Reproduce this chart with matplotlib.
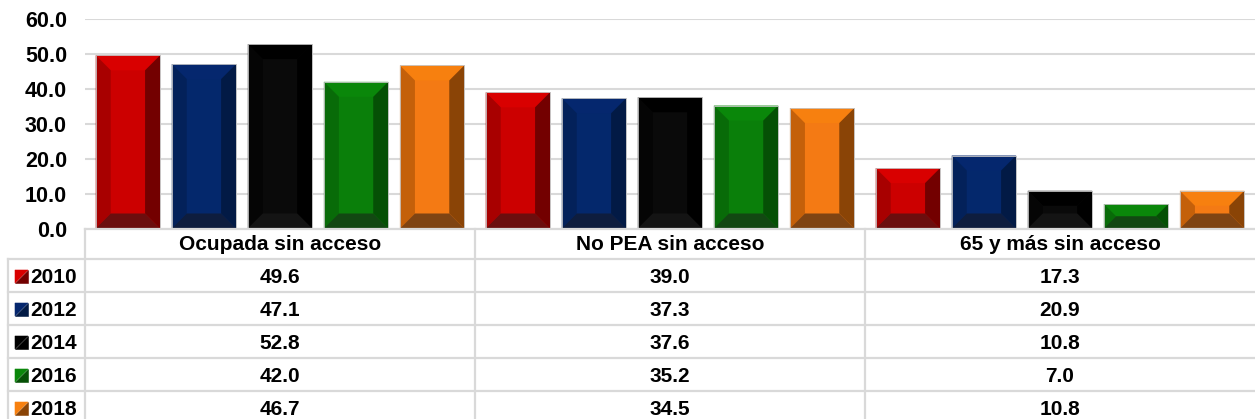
import matplotlib
matplotlib.use('Agg')
import matplotlib.pyplot as plt
from matplotlib.patches import Polygon
import numpy as np

plt.rcParams['font.family'] = ['Liberation Sans', 'DejaVu Sans']
plt.rcParams['font.weight'] = 'bold'

categories = ['Ocupada sin acceso', 'No PEA sin acceso', '65 y más sin acceso']
years = ['2010', '2012', '2014', '2016', '2018']
v2010 = [49.6, 39.0, 17.3]
v2012 = [47.1, 37.3, 20.9]
v2014 = [52.8, 37.6, 10.8]
v2016 = [42.0, 35.2, 7.0]
v2018 = [46.7, 34.5, 10.8]
series = [v2010, v2012, v2014, v2016, v2018]
yticks = [0, 10, 20, 30, 40, 50, 60]

# bevel shades: top, face, left, right, bottom
shades = [
    ('#D90000', '#CC0000', '#A80000', '#730000', '#6B0E0E'),
    ('#05276E', '#04286C', '#03215A', '#021A45', '#0E1D3E'),
    ('#000000', '#0A0A0A', '#050505', '#000000', '#141414'),
    ('#0A870A', '#0A7F0A', '#086B08', '#055005', '#124812'),
    ('#F7800F', '#F47A14', '#C4600A', '#8A4406', '#7F4413'),
]

W, H = 1255, 419
fig = plt.figure(figsize=(W / 100, H / 100), dpi=100)
fig.patch.set_facecolor('white')

# main axes in pixel layout
ax_l, ax_r, ax_top, ax_bot = 85, 1255, 19, 228.5
ax = fig.add_axes([ax_l / W, 1 - ax_bot / H, (ax_r - ax_l) / W, (ax_bot - ax_top) / H])
ax.set_xlim(-0.5, len(categories) - 0.5)
ax.set_ylim(0, 60)
ax.set_yticks(yticks)
ax.set_yticklabels([f'{t:.1f}' for t in yticks], fontsize=15.5, fontweight='bold')
ax.set_xticks([])
ax.tick_params(axis='y', length=0, pad=13)
for s in ax.spines.values():
    s.set_visible(False)
ax.grid(axis='y', color='#D9D9D9', linewidth=1.5)
ax.set_axisbelow(True)
ax.patch.set_alpha(0)

step = 0.195
width = 0.165
x = np.arange(len(categories))
to_px = ax.transData
to_data = ax.transData.inverted()
for i, vals in enumerate(series):
    top, face, left, right, bottom = shades[i]
    bars = ax.bar(x + (i - 2) * step, vals, width, color=face, edgecolor='#C8C8C8', linewidth=0.6, zorder=2)
    for b in bars:
        (px0, py0), (px1, py1) = to_px.transform([(b.get_x(), 0), (b.get_x() + b.get_width(), b.get_height())])
        d = min(15, (py1 - py0) / 2, (px1 - px0) / 2)
        polys = [
            ([(px0, py1), (px1, py1), (px1 - d, py1 - d), (px0 + d, py1 - d)], top),
            ([(px0, py0), (px0, py1), (px0 + d, py1 - d), (px0 + d, py0 + d)], left),
            ([(px1, py0), (px1, py1), (px1 - d, py1 - d), (px1 - d, py0 + d)], right),
            ([(px0, py0), (px1, py0), (px1 - d, py0 + d), (px0 + d, py0 + d)], bottom),
        ]
        for pts, c in polys:
            ax.add_patch(Polygon(to_data.transform(pts), closed=True, facecolor=c, edgecolor='none', zorder=3))
        ax.add_patch(plt.Rectangle((b.get_x(), 0), b.get_width(), b.get_height(), fill=False,
                                   edgecolor='#C8C8C8', linewidth=0.6, zorder=4))

# data table drawn underneath in pixel coordinates
tab = fig.add_axes([0, 0, 1, 1])
tab.set_xlim(0, W)
tab.set_ylim(H, 0)
tab.axis('off')
tab.patch.set_alpha(0)

col_x = [ax_l + k * (ax_r - ax_l) / len(categories) for k in range(len(categories) + 1)]
head_top, head_bot, row_h = 228.5, 259, 33
row_edges = [head_bot + k * row_h for k in range(len(years) + 1)]
lc, lw = '#D9D9D9', 1.6

tab.plot([ax_l, ax_r], [head_top, head_top], color=lc, lw=lw)
for cx in col_x[:-1]:
    tab.plot([cx, cx], [head_top, H + 20], color=lc, lw=lw)
tab.plot([8, 8], [head_bot, H + 20], color=lc, lw=lw)
for ry in row_edges:
    tab.plot([8, ax_r], [ry, ry], color=lc, lw=lw)

for j, cat in enumerate(categories):
    cx = (col_x[j] + col_x[j + 1]) / 2
    tab.text(cx, (head_top + head_bot) / 2 + 1, cat, ha='center', va='center', fontsize=15, fontweight='bold')
    for i, vals in enumerate(series):
        cy = row_edges[i] + row_h / 2 + 1.5
        tab.text(cx, cy, f'{vals[j]:.1f}', ha='center', va='center', fontsize=15, fontweight='bold')

for i, yr in enumerate(years):
    cy = row_edges[i] + row_h / 2 + 1
    s0, s1 = 15, 28
    y0, y1 = cy - 6.5, cy + 6.5
    tab.add_patch(Polygon([(s0, y0), (s1, y0), (s0, y1)], facecolor=shades[i][0],
                          edgecolor=shades[i][0], lw=0.4))
    tab.add_patch(Polygon([(s1, y0), (s1, y1), (s0, y1)], facecolor=shades[i][3],
                          edgecolor=shades[i][3], lw=0.4))
    tab.text(30, cy + 0.5, yr, ha='left', va='center', fontsize=15, fontweight='bold')

fig.savefig('out.png', dpi=100)
